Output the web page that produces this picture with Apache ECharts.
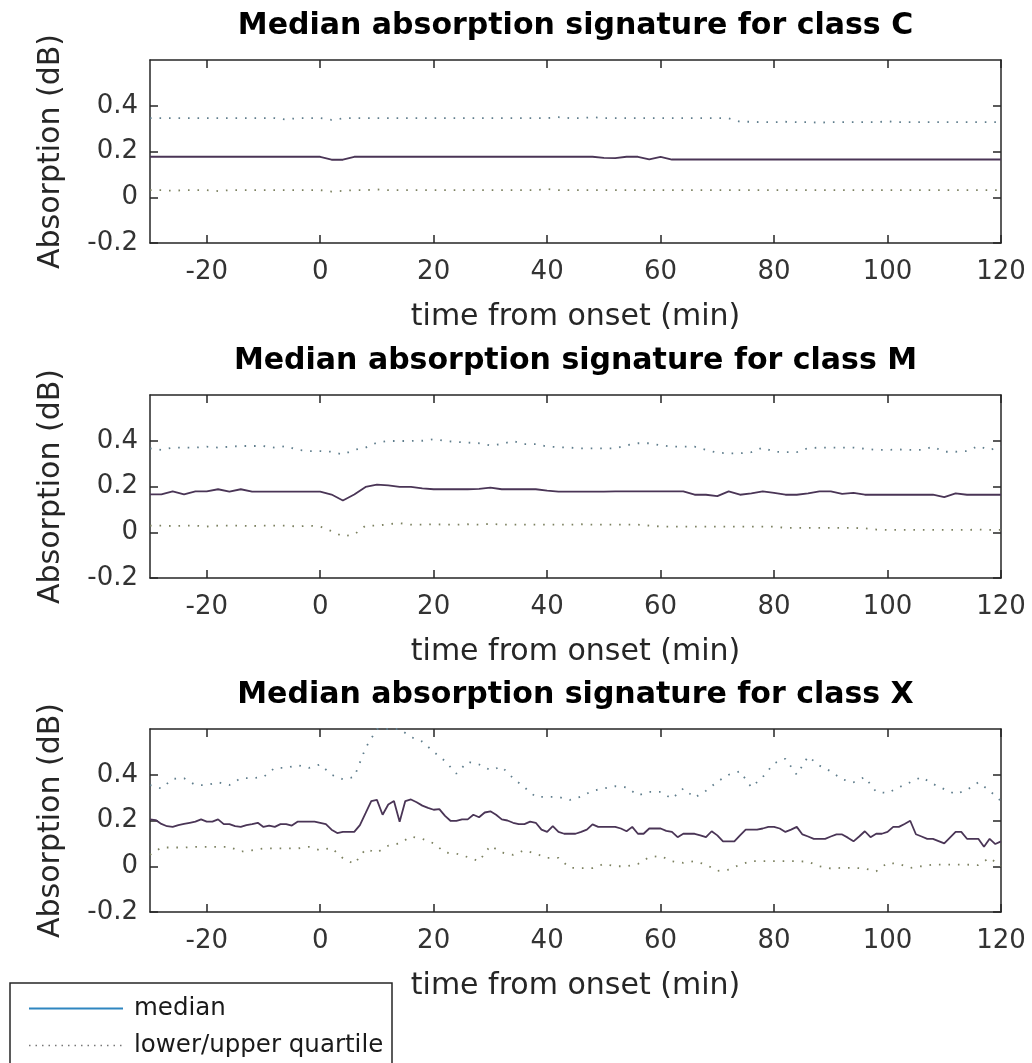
<!DOCTYPE html>
<html>
<head>
<meta charset="utf-8">
<title>Median absorption signature</title>
<style>
	html, body { margin: 0; padding: 0; background: #fff; }
	#chart { width: 1032px; height: 1063px; }
</style>
</head>
<body>
<div id="chart"></div>
<script src="https://cdn.jsdelivr.net/npm/echarts@6/dist/echarts.min.js"></script>
<script>
	// time grids (minutes from onset)
	var tCoarse = [-30,-28,-26,-24,-22,-20,-18,-16,-14,-12,
		-10,-8,-6,-4,-2,0,2,4,6,8,
		10,12,14,16,18,20,22,24,26,28,
		30,32,34,36,38,40,42,44,46,48,
		50,52,54,56,58,60,62,64,66,68,
		70,72,74,76,78,80,82,84,86,88,
		90,92,94,96,98,100,102,104,106,108,
		110,112,114,116,118,120]
	var tFine = []
	for (var m = -30; m <= 120; m++) tFine.push(m)

	var xTicks = [-20, 0, 20, 40, 60, 80, 100, 120]
	var yTicks = [-0.2, 0, 0.2, 0.4]
	var classes = ['C', 'M', 'X']

	// class C
	var cMed = [.177,.177,.177,.177,.177,.177,.177,.177,.177,.177,
		.177,.177,.177,.177,.177,.177,.164,.164,.177,.177,
		.177,.177,.177,.177,.177,.177,.177,.177,.177,.177,
		.177,.177,.177,.177,.177,.177,.177,.177,.177,.177,
		.172,.171,.177,.177,.166,.177,.165,.165,.165,.165,
		.165,.165,.165,.165,.165,.165,.165,.165,.165,.165,
		.165,.165,.165,.165,.165,.165,.165,.165,.165,.165,
		.165,.165,.165,.165,.165,.165]
	var cUp = [.346,.346,.346,.346,.346,.346,.346,.346,.346,.346,
		.346,.346,.340,.346,.346,.346,.338,.345,.346,.346,
		.346,.346,.346,.346,.346,.346,.346,.346,.346,.346,
		.346,.346,.346,.346,.346,.346,.350,.346,.346,.350,
		.346,.346,.346,.346,.346,.346,.346,.346,.346,.346,
		.346,.345,.330,.330,.328,.328,.330,.328,.328,.326,
		.328,.328,.328,.328,.328,.332,.328,.328,.328,.328,
		.328,.328,.328,.328,.328,.328]
	var cLow = [.031,.031,.028,.031,.031,.031,.027,.031,.031,.031,
		.031,.031,.031,.031,.031,.031,.025,.028,.031,.031,
		.034,.031,.031,.031,.031,.031,.031,.031,.031,.031,
		.031,.031,.031,.031,.031,.036,.031,.031,.031,.031,
		.031,.031,.031,.031,.031,.031,.031,.031,.031,.031,
		.031,.031,.031,.031,.031,.031,.031,.031,.031,.031,
		.031,.031,.031,.031,.031,.031,.031,.031,.031,.031,
		.031,.031,.031,.031,.031,.031]

	// class M
	var mMed = [.166,.166,.179,.166,.179,.179,.188,.178,.188,.178,
		.178,.178,.178,.178,.178,.178,.165,.139,.165,.198,
		.208,.205,.198,.198,.192,.188,.188,.188,.188,.190,
		.195,.188,.188,.188,.188,.182,.178,.178,.178,.178,
		.178,.179,.179,.179,.179,.179,.179,.179,.164,.164,
		.158,.179,.164,.170,.179,.172,.164,.164,.170,.179,
		.179,.168,.172,.164,.164,.164,.164,.164,.164,.164,
		.154,.170,.164,.164,.164,.164]
	var mUp = [.367,.360,.370,.370,.370,.374,.370,.374,.377,.377,
		.377,.370,.377,.360,.355,.355,.352,.340,.360,.370,
		.392,.399,.399,.399,.400,.407,.399,.395,.392,.389,
		.380,.385,.399,.385,.385,.375,.372,.370,.367,.367,
		.367,.367,.380,.389,.389,.380,.374,.374,.374,.360,
		.348,.345,.345,.350,.370,.352,.350,.350,.368,.370,
		.370,.370,.370,.365,.360,.360,.362,.360,.360,.374,
		.352,.352,.355,.377,.360,.375]
	var mLow = [.029,.029,.027,.029,.029,.025,.029,.029,.029,.027,
		.029,.029,.029,.025,.029,.025,.005,-.018,-.010,.029,
		.029,.035,.040,.033,.033,.035,.033,.033,.035,.033,
		.037,.033,.033,.033,.033,.033,.033,.033,.035,.033,
		.033,.033,.033,.033,.029,.025,.025,.025,.025,.025,
		.025,.025,.025,.025,.025,.025,.019,.019,.019,.019,
		.019,.019,.019,.017,.012,.010,.010,.010,.010,.010,
		.010,.010,.010,.012,.010,.010]

	// class X (median at 1 min resolution)
	var xMed = [.205,.202,.185,.175,.172,.180,.185,.190,.195,.205,
		.195,.195,.205,.184,.184,.175,.172,.180,.184,.190,
		.172,.178,.172,.184,.184,.178,.195,.195,.195,.195,
		.190,.184,.160,.145,.150,.150,.150,.180,.232,.285,
		.290,.225,.270,.285,.195,.285,.292,.280,.265,.255,
		.247,.250,.220,.198,.198,.205,.205,.225,.214,.235,
		.240,.225,.205,.200,.190,.184,.184,.195,.190,.160,
		.150,.175,.150,.142,.142,.142,.150,.160,.183,.172,
		.172,.172,.172,.165,.153,.172,.142,.142,.165,.165,
		.165,.155,.150,.127,.142,.142,.142,.135,.127,.153,
		.135,.109,.109,.109,.135,.160,.160,.160,.165,.172,
		.172,.165,.150,.160,.172,.139,.130,.120,.120,.120,
		.130,.139,.139,.125,.109,.130,.153,.127,.142,.142,
		.150,.172,.172,.185,.199,.140,.130,.120,.120,.110,
		.100,.125,.150,.150,.120,.120,.120,.085,.120,.097,
		.109]
	var xUp = [.355,.340,.382,.385,.355,.355,.367,.355,.385,.385,
		.390,.430,.430,.442,.430,.445,.400,.380,.390,.517,
		.600,.600,.600,.565,.545,.500,.460,.405,.457,.445,
		.420,.435,.385,.345,.303,.303,.303,.290,.305,.330,
		.340,.350,.345,.310,.325,.325,.295,.340,.300,.330,
		.370,.400,.415,.345,.390,.450,.470,.400,.480,.440,
		.415,.380,.367,.390,.325,.320,.345,.367,.390,.360,
		.337,.315,.334,.367,.330,.285]
	var xLow = [.050,.082,.082,.082,.085,.085,.085,.085,.064,.070,
		.078,.078,.078,.078,.085,.070,.080,.035,.010,.075,
		.060,.090,.100,.130,.120,.100,.060,.055,.040,.022,
		.090,.060,.050,.070,.055,.037,.037,-.007,-.008,-.008,
		.010,.000,.000,.010,.040,.045,.022,.015,.022,.007,
		-.020,-.015,.007,.022,.022,.022,.022,.022,.020,.000,
		-.010,-.007,-.007,-.010,-.022,.015,.010,-.007,.000,.007,
		.007,.007,.007,.005,.037,.000]

	var medSets = [[tCoarse, cMed], [tCoarse, mMed], [tFine, xMed]]
	var upSets = [cUp, mUp, xUp]
	var lowSets = [cLow, mLow, xLow]

	// layout
	var gridTops = [60, 395, 729]
	var gridLeft = 150, gridW = 851, gridH = 183
	var axisColor = '#262626'
	var fontFam = '"DejaVu Sans", sans-serif'

	function pairs(t, v) {
		var out = []
		for (var i = 0; i < v.length; i++) out.push([t[i], v[i]])
		return out
	}

	var grids = [], xAxes = [], yAxes = [], series = [], graphics = []
	for (var i = 0; i < 3; i++) {
		grids.push({left: gridLeft, top: gridTops[i], width: gridW, height: gridH, containLabel: false})
		var lineStyle = {color: axisColor, width: 1.5}
		var tick = {show: true, inside: true, length: 8, lineStyle: lineStyle}
		xAxes.push({
			gridIndex: i, type: 'value', min: -30, max: 120, position: 'bottom',
			axisLine: {show: true, onZero: false, lineStyle: lineStyle},
			axisTick: Object.assign({customValues: xTicks}, tick),
			axisLabel: {customValues: xTicks, margin: 16, fontSize: 26, fontFamily: fontFam, color: '#333'},
			splitLine: {show: false}
		})
		xAxes.push({
			gridIndex: i, type: 'value', min: -30, max: 120, position: 'top',
			axisLine: {show: true, onZero: false, lineStyle: lineStyle},
			axisTick: Object.assign({customValues: xTicks}, tick),
			axisLabel: {show: false},
			splitLine: {show: false}
		})
		yAxes.push({
			gridIndex: i, type: 'value', min: -0.2, max: 0.6, position: 'left',
			axisLine: {show: true, onZero: false, lineStyle: lineStyle},
			axisTick: Object.assign({customValues: yTicks}, tick),
			axisLabel: {
				customValues: yTicks, margin: 12, fontSize: 26, fontFamily: fontFam, color: '#333',
				formatter: function(v) { return String(Math.round(v * 10) / 10) }
			},
			splitLine: {show: false}
		})
		yAxes.push({
			gridIndex: i, type: 'value', min: -0.2, max: 0.6, position: 'right',
			axisLine: {show: true, onZero: false, lineStyle: lineStyle},
			axisTick: Object.assign({customValues: yTicks}, tick),
			axisLabel: {show: false},
			splitLine: {show: false}
		})

		var dotted = {width: 1.8, type: [1.6, 7.9], cap: 'butt'}
		series.push({
			name: 'lower/upper quartile', type: 'line', xAxisIndex: 2 * i, yAxisIndex: 2 * i,
			data: pairs(tCoarse, upSets[i]), symbol: 'none', silent: true,
			lineStyle: Object.assign({color: '#5f7d8c'}, dotted)
		})
		series.push({
			name: 'lower/upper quartile', type: 'line', xAxisIndex: 2 * i, yAxisIndex: 2 * i,
			data: pairs(tCoarse, lowSets[i]), symbol: 'none', silent: true,
			lineStyle: Object.assign({color: '#7c8160'}, dotted)
		})
		series.push({
			name: 'median', type: 'line', xAxisIndex: 2 * i, yAxisIndex: 2 * i, z: 3,
			data: pairs(medSets[i][0], medSets[i][1]), symbol: 'none', silent: true,
			lineStyle: {color: '#4a3556', width: 1.8}
		})

		// title, x label, y label
		graphics.push({
			type: 'text', x: gridLeft + gridW / 2, y: gridTops[i] - 34,
			style: {text: 'Median absorption signature for class ' + classes[i], fontSize: 30, fontWeight: 'bold',
				fontFamily: fontFam, fill: '#000', align: 'center', verticalAlign: 'middle'}
		})
		graphics.push({
			type: 'text', x: gridLeft + gridW / 2, y: gridTops[i] + gridH + 74,
			style: {text: 'time from onset (min)', fontSize: 30, fontFamily: fontFam, fill: '#262626',
				align: 'center', verticalAlign: 'middle'}
		})
		graphics.push({
			type: 'text', x: 51, y: gridTops[i] + gridH / 2, rotation: Math.PI / 2,
			style: {text: 'Absorption (dB)', fontSize: 30, fontFamily: fontFam, fill: '#262626',
				align: 'center', verticalAlign: 'middle'}
		})
	}

	// legend frame: runs past the bottom edge of the figure
	graphics.push({
		type: 'rect', z: 0,
		shape: {x: 10, y: 983, width: 382, height: 140},
		style: {fill: '#fff', stroke: axisColor, lineWidth: 1.5}
	})

	var myChart = echarts.init(document.getElementById('chart'))
	myChart.setOption({
		animation: false,
		backgroundColor: '#fff',
		grid: grids,
		xAxis: xAxes,
		yAxis: yAxes,
		legend: {
			orient: 'vertical', left: 10, top: 983, z: 10,
			padding: [13, 10, 2, 18],
			itemWidth: 94, itemHeight: 14, itemGap: 12,
			itemStyle: {opacity: 0},
			textStyle: {fontSize: 24.5, fontFamily: fontFam, color: '#1a1a1a', padding: [0, 0, 0, 6]},
			data: [
				{name: 'median', lineStyle: {color: '#2f86c0', width: 2}},
				{name: 'lower/upper quartile', lineStyle: {color: '#777', width: 1.5, type: [1.5, 5]}}
			]
		},
		graphic: graphics,
		series: series
	})
</script>
</body>
</html>
